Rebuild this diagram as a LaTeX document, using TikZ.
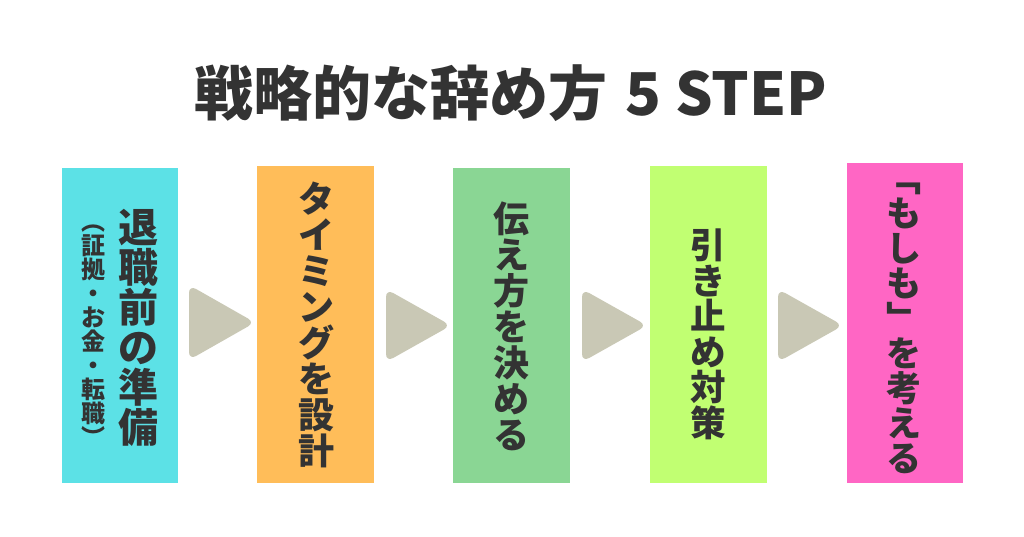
\documentclass[tikz,border=0pt]{standalone}
\usepackage{fontspec}
\newfontfamily\jp{Noto Sans CJK JP}
\definecolor{txt}{HTML}{333333}
\definecolor{cA}{HTML}{5CE1E6}
\definecolor{cB}{HTML}{FFBD59}
\definecolor{cC}{HTML}{8AD694}
\definecolor{cD}{HTML}{C1FF72}
\definecolor{cE}{HTML}{FF66C4}
\definecolor{arr}{HTML}{C9C8B5}
\makeatletter
\def\vt@end{\vt@end@}
\newcommand\vtext[1]{\vbox{\offinterlineskip\vt@loop#1\vt@end}}
\def\vt@loop#1{\ifx#1\vt@end\else\hbox to 1em{\hss\vrule width 0pt height .88em depth .12em\relax#1\hss}\expandafter\vt@loop\fi}
\makeatother
\tikzset{
  stepbox/.style={rectangle, draw=none, inner sep=0pt, anchor=center},
  coltext/.style={inner sep=0pt, text=txt, anchor=center},
  arrowshape/.style={fill=arr, rounded corners=8pt},
}
\begin{document}
\begin{tikzpicture}[x=1pt,y=-1pt]
\useasboundingbox (0,0) rectangle (1024,537);
\fill[white] (0,0) rectangle (1024,537);
% title
\node[inner sep=0pt, anchor=base, text=txt, font=\jp\bfseries\fontsize{59}{59}\selectfont] (title) at (511,116) {戦略的な辞め方\hspace{18pt}5 STEP};
% boxes
\node[stepbox, fill=cA, minimum width=116pt, minimum height=315pt] (b1) at (120,325.5) {};
\node[stepbox, fill=cB, minimum width=117pt, minimum height=317pt] (b2) at (315.5,324.5) {};
\node[stepbox, fill=cC, minimum width=117pt, minimum height=315pt] (b3) at (511.5,325.5) {};
\node[stepbox, fill=cD, minimum width=117pt, minimum height=317pt] (b4) at (708.5,324.5) {};
\node[stepbox, fill=cE, minimum width=116pt, minimum height=320pt] (b5) at (905,323) {};
% texts
\node[coltext, font=\jp\bfseries\fontsize{24}{24}\selectfont] (t1s) at (93,329) {\vtext{︵証拠・お金・転職︶}};
\node[coltext, font=\jp\bfseries\fontsize{40}{40}\selectfont] (t1) at (138.5,327.5) {\vtext{退職前の準備}};
\node[coltext, font=\jp\bfseries\fontsize{36}{36}\selectfont] (t2) at (316,324.5) {\vtext{タイミングを設計}};
\node[coltext, font=\jp\bfseries\fontsize{36}{36}\selectfont] (t3) at (511.5,326.7) {\vtext{伝え方を決める}};
\node[coltext, font=\jp\bfseries\fontsize{35.5}{35.5}\selectfont] (t4) at (708,334) {\vtext{引き止め対策}};
\node[coltext, font=\jp\bfseries\fontsize{35}{35}\selectfont] (t5) at (904,318) {\vtext{﹁もしも﹂を考える}};
% arrows
\fill[arrowshape] (189,285) -- (255,322.5) -- (189,360) -- cycle;
\fill[arrowshape] (386,289) -- (451,325.5) -- (386,362) -- cycle;
\fill[arrowshape] (582,289) -- (647,325.5) -- (582,362) -- cycle;
\fill[arrowshape] (778,289) -- (843,325.5) -- (778,362) -- cycle;
\end{tikzpicture}
\end{document}
